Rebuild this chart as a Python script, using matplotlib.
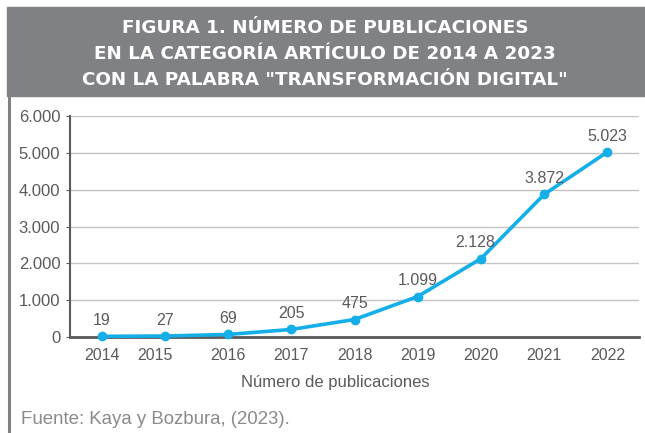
import matplotlib.pyplot as plt
from matplotlib.patches import Rectangle
from matplotlib.lines import Line2D
from matplotlib.ticker import FuncFormatter
import matplotlib.transforms as mtransforms

years = ['2014', '2015', '2016', '2017', '2018', '2019', '2020', '2021', '2022']
publicaciones = [19, 27, 69, 205, 475, 1099, 2128, 3872, 5023]
yticks = [0, 1000, 2000, 3000, 4000, 5000, 6000]

title_lines = ['FIGURA 1. NÚMERO DE PUBLICACIONES',
               'EN LA CATEGORÍA ARTÍCULO DE 2014 A 2023',
               'CON LA PALABRA "TRANSFORMACIÓN DIGITAL"']

W, H = 645, 433
fig = plt.figure(figsize=(6.45, 4.33), dpi=100)

def fx(x):
    return x / W

def fy(y):
    return 1 - y / H

sans = ['Liberation Sans', 'DejaVu Sans']
grey_txt = '#5a5a5a'

# header band and left frame line
fig.patches.append(Rectangle((fx(7), fy(96)), fx(645 - 7), fy(7) - fy(96),
                             transform=fig.transFigure, color='#808184', zorder=0))
fig.lines.append(Line2D([fx(8.5), fx(8.5)], [fy(96), 0], transform=fig.transFigure,
                        color='#808184', lw=2.2))
for i, line in enumerate(title_lines):
    fig.text(fx(325), fy(33 + 26 * i), line, ha='center', va='baseline', color='white',
             fontsize=13.2, fontweight='bold', family=['DejaVu Sans'])

ax = fig.add_axes([fx(70), fy(337), fx(639 - 70), fy(116) - fy(337)])
x = list(range(len(years)))
ax.plot(x, publicaciones, color='#14aee8', lw=2.6, marker='o', markersize=6,
        solid_capstyle='round', zorder=3, clip_on=False)
for xi, v in zip(x, publicaciones):
    lab = f'{v:,}'.replace(',', '.')
    dx = -4 if v == 2128 else 0
    ax.annotate(lab, (xi, v), xytext=(dx, 6), textcoords='offset points',
                ha='center', va='bottom', fontsize=11.5, color=grey_txt, family=sans)

ax.set_xlim(-0.5, len(years) - 0.5)
ax.set_ylim(0, 6000)
ax.set_yticks(yticks)
ax.yaxis.set_major_formatter(FuncFormatter(lambda v, p: f'{int(v):,}'.replace(',', '.')))
ax.set_xticks(x)
ax.set_xticklabels(years)
ax.grid(axis='y', color='#c4c4c4', lw=1)
ax.set_axisbelow(True)
for s in ['top', 'right']:
    ax.spines[s].set_visible(False)
ax.spines['left'].set_color('#5a5a5a')
ax.spines['left'].set_linewidth(1.5)
ax.spines['bottom'].set_color('#5a5a5a')
ax.spines['bottom'].set_linewidth(2)
ax.tick_params(axis='y', length=3, color='#5a5a5a', labelsize=12, labelcolor=grey_txt, pad=4)
ax.tick_params(axis='x', length=0, labelsize=11.5, labelcolor=grey_txt, pad=8)
for t in ax.get_yticklabels() + ax.get_xticklabels():
    t.set_family(sans)
# 2015 label sits a bit left of its point in the original
lbl = ax.get_xticklabels()[1]
lbl.set_transform(lbl.get_transform() + mtransforms.ScaledTranslation(-0.1, 0, fig.dpi_scale_trans))

fig.text(fx(335), fy(383), 'Número de publicaciones', ha='center', va='center',
         fontsize=12, color=grey_txt, family=sans)
fig.text(fx(21), fy(419), 'Fuente: Kaya y Bozbura, (2023).', ha='left', va='center',
         fontsize=13.4, color='#8a8a8a', family=sans)

fig.savefig('out.png', dpi=100)
